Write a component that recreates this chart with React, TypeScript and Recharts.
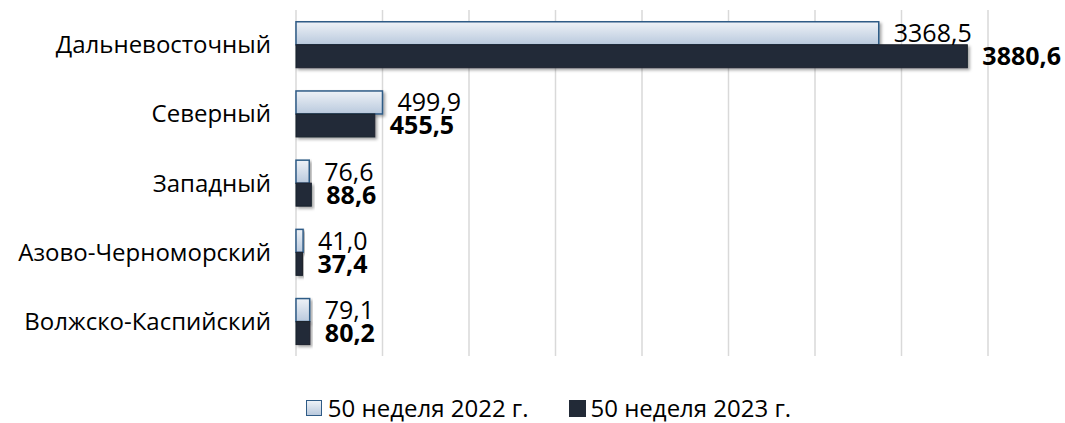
import React from 'react';
import { BarChart, Bar, XAxis, YAxis, CartesianGrid, Legend, LabelList } from 'recharts';

const categories = ['Дальневосточный', 'Северный', 'Западный', 'Азово-Черноморский', 'Волжско-Каспийский'];
const values2022 = [3368.5, 499.9, 76.6, 41.0, 79.1];
const values2023 = [3880.6, 455.5, 88.6, 37.4, 80.2];
const xTicks = [0, 500, 1000, 1500, 2000, 2500, 3000, 3500, 4000];
const seriesNames = ['50 неделя 2022 г.', '50 неделя 2023 г.'];

const data = categories.map((name, i) => ({ name, v2022: values2022[i], v2023: values2023[i] }));

const FONT = '"Open Sans", "Noto Sans", sans-serif';
const fmt = (v: any) => Number(v).toFixed(1).replace('.', ',');

const LightShape = (p: any) => (
  <rect x={p.x} y={p.y} width={Math.max(p.width, 0)} height={p.height} fill="url(#lightGrad)" stroke="#2f5b86" strokeWidth={1.5} filter="url(#shadow)" />
);
const DarkShape = (p: any) => (
  <rect x={p.x} y={p.y} width={Math.max(p.width, 0)} height={p.height} fill="#222a37" stroke="#1b222d" strokeWidth={1} filter="url(#shadow)" />
);
const EmptyTick = () => <g />;

const LegendContent = () => (
  <div style={{ display: 'flex', justifyContent: 'center', gap: 40, fontFamily: FONT, fontSize: 24, lineHeight: '30px', color: '#000', paddingLeft: 109 }}>
    <div style={{ display: 'flex', alignItems: 'center', gap: 6 }}>
      <span style={{ width: 14, height: 14, border: '1.5px solid #2f5b86', background: 'linear-gradient(#eef2f7, #b9c9dd)', display: 'inline-block' }} />
      <span>{seriesNames[0]}</span>
    </div>
    <div style={{ display: 'flex', alignItems: 'center', gap: 5 }}>
      <span style={{ width: 17, height: 17, background: '#222a37', display: 'inline-block' }} />
      <span>{seriesNames[1]}</span>
    </div>
  </div>
);

export default function App() {
  return (
    <div>
      <style>{`body{margin:0;}`}</style>
      <BarChart
        width={1065}
        height={423}
        data={data}
        layout="vertical"
        margin={{ top: 10, right: 77, bottom: 0, left: 0 }}
        barCategoryGap="17%"
        barGap={0}
      >
        <defs>
          <linearGradient id="lightGrad" x1="0" y1="0" x2="0" y2="1">
            <stop offset="0%" stopColor="#eef2f7" />
            <stop offset="100%" stopColor="#b9c9dd" />
          </linearGradient>
          <filter id="shadow" x="-10%" y="-30%" width="130%" height="180%">
            <feDropShadow dx="2" dy="2" stdDeviation="1.5" floodColor="#000" floodOpacity="0.35" />
          </filter>
        </defs>
        <CartesianGrid horizontal={false} stroke="#d9d9d9" strokeWidth={1.5} />
        <XAxis type="number" domain={[0, 4000]} ticks={xTicks} height={37} tick={<EmptyTick />} axisLine={false} tickLine={false} />
        <YAxis
          type="category"
          dataKey="name"
          width={296}
          axisLine={false}
          tickLine={false}
          tickSize={0}
          tickMargin={25}
          tick={{ fill: '#000', fontSize: 24, fontFamily: FONT }}
        />
        <Legend verticalAlign="bottom" height={30} content={<LegendContent />} />
        <Bar dataKey="v2022" name={seriesNames[0]} shape={<LightShape />} isAnimationActive={false}>
          <LabelList dataKey="v2022" position="right" offset={15} formatter={fmt} style={{ fill: '#000', fontSize: 25, fontFamily: FONT }} />
        </Bar>
        <Bar dataKey="v2023" name={seriesNames[1]} shape={<DarkShape />} isAnimationActive={false}>
          <LabelList dataKey="v2023" position="right" offset={15} formatter={fmt} style={{ fill: '#000', fontSize: 25, fontWeight: 700, fontFamily: FONT }} />
        </Bar>
      </BarChart>
    </div>
  );
}
